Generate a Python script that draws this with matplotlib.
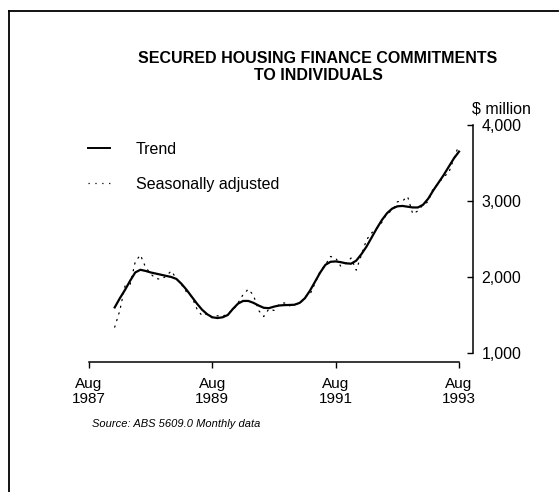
import matplotlib
matplotlib.use("Agg")
import matplotlib.pyplot as plt
from matplotlib.lines import Line2D

plt.rcParams['font.family'] = ['Liberation Sans', 'DejaVu Sans']

# Months counted from Aug 1987 (0); data run Jan 1988 .. Aug 1993
months = list(range(5, 73))

trend = [1600, 1720, 1830, 1950, 2060, 2095, 2080, 2060, 2045, 2030,
         2015, 2000, 1975, 1910, 1830, 1740, 1650, 1570, 1510, 1470,
         1460, 1470, 1500, 1580, 1650, 1685, 1685, 1660, 1625, 1595,
         1590, 1610, 1625, 1630, 1632, 1635, 1660, 1720, 1820, 1940,
         2060, 2160, 2200, 2205, 2195, 2180, 2175, 2215, 2300, 2400,
         2520, 2640, 2750, 2840, 2900, 2930, 2935, 2925, 2915, 2915,
         2950, 3030, 3140, 3240, 3340, 3450, 3560, 3650]

seas_adj = [1340, 1560, 1880, 1900, 2200, 2290, 2130, 2040, 1980, 1970,
            2010, 2080, 1980, 1900, 1800, 1740, 1580, 1490, 1520, 1460,
            1490, 1480, 1520, 1560, 1660, 1770, 1840, 1760, 1560, 1480,
            1580, 1560, 1640, 1660, 1620, 1650, 1640, 1740, 1770, 1920,
            2080, 2160, 2270, 2250, 2140, 2180, 2250, 2090, 2290, 2490,
            2580, 2640, 2720, 2840, 2870, 2990, 3000, 3060, 2830, 2870,
            2950, 2990, 3170, 3230, 3320, 3370, 3560, 3740]

xtick_pos = [0, 24, 48, 72]
xtick_labels = ['Aug\n1987', 'Aug\n1989', 'Aug\n1991', 'Aug\n1993']
ytick_vals = [1000, 2000, 3000, 4000]
ytick_labels = ['1,000', '2,000', '3,000', '4,000']

W, H = 560, 492
fig = plt.figure(figsize=(W / 100, H / 100), dpi=100)

def fx(px):
    return px / W

def fy(py):
    return 1 - py / H

# plotting area
left, right, top, bottom = 89, 473, 125, 362
ax = fig.add_axes([fx(left), fy(bottom), fx(right - left), fy(top) - fy(bottom)])
px_per_month = (459 - 89) / 72
ax.set_xlim(0, (right - left) / px_per_month)
px_per_unit = (353 - 125) / 3000
ax.set_ylim(1000 - (bottom - 353) / px_per_unit, 4000)

ax.plot(months, seas_adj, color='black', lw=0.9, linestyle=(0, (1, 4.5)),
        dash_capstyle='round', label='Seasonally adjusted')
ax.plot(months, trend, color='black', lw=1.6, solid_joinstyle='round',
        label='Trend')

for s in ['top', 'left']:
    ax.spines[s].set_visible(False)
ax.spines['bottom'].set_bounds(0, 72)
ax.spines['right'].set_bounds(1000, 4000)
ax.spines['bottom'].set_linewidth(1.1)
ax.spines['right'].set_linewidth(1.1)

ax.yaxis.tick_right()
ax.set_yticks(ytick_vals)
ax.set_yticklabels(ytick_labels)
ax.tick_params(axis='y', direction='in', length=4, width=1.0, pad=6,
               labelsize=11.5)
ax.set_xticks(xtick_pos)
ax.set_xticklabels(xtick_labels, linespacing=1.1)
ax.tick_params(axis='x', direction='out', length=4, width=1.0, pad=7,
               labelsize=11)

fig.text(fx(472), fy(109), '$ million', fontsize=11.5, ha='left', va='center')

fig.text(fx(318), fy(67), 'SECURED HOUSING FINANCE COMMITMENTS\nTO INDIVIDUALS',
         fontsize=11.5, fontweight='bold', ha='center', va='center',
         linespacing=1.2)

handles = [Line2D([], [], color='black', lw=1.4),
           Line2D([], [], color='black', lw=0.9, linestyle=(0, (1, 4.5)))]
ax.legend(handles, ['Trend', 'Seasonally adjusted'], loc='upper left',
          bbox_to_anchor=(fx(88), fy(142)), bbox_transform=fig.transFigure,
          frameon=False, fontsize=11.5, handlelength=1.4, handletextpad=1.6,
          labelspacing=1.25, borderpad=0, borderaxespad=0)

fig.text(fx(92), fy(424), 'Source: ABS 5609.0 Monthly data', fontsize=8,
         style='italic', ha='left', va='center')

# frame around the panel (top and left edges)
fig.add_artist(Line2D([fx(9), fx(558)], [fy(11), fy(11)], color='black', lw=1.3))
fig.add_artist(Line2D([fx(9), fx(9)], [fy(11), fy(492)], color='black', lw=1.3))

fig.savefig('out.png', dpi=100, facecolor='white')
